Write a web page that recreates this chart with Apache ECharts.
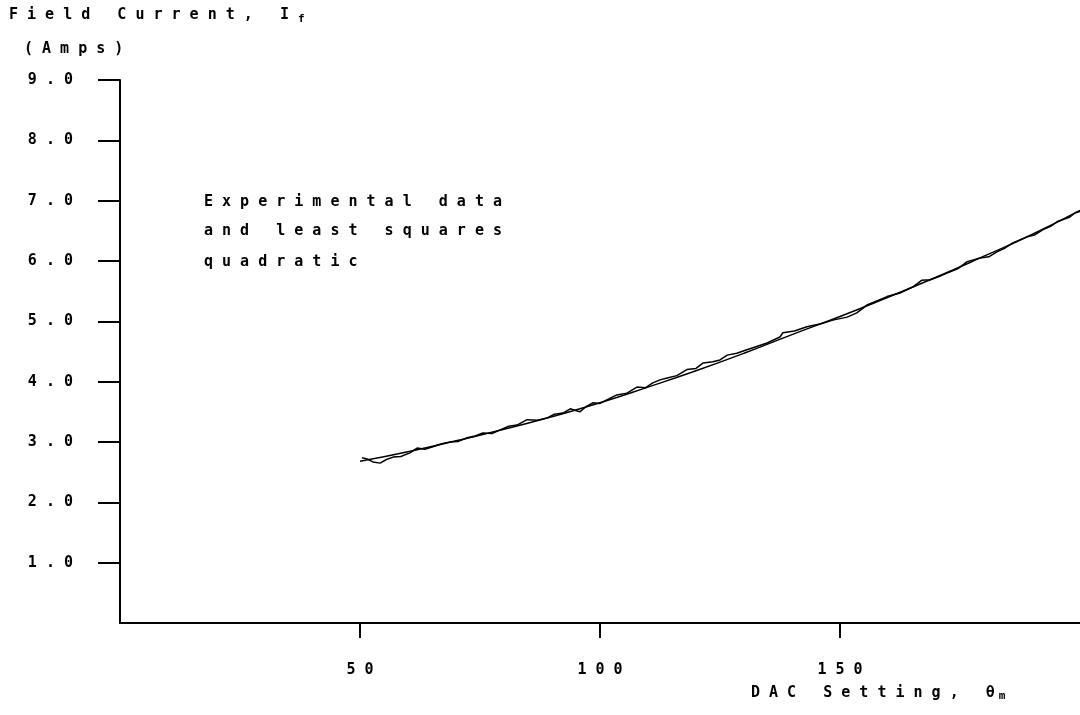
<!DOCTYPE html>
<html>
<head>
<meta charset="utf-8">
<script src="https://cdn.jsdelivr.net/npm/echarts@6/dist/echarts.min.js"></script>
<style>html,body{margin:0;padding:0;background:#fff;}#c{width:1080px;height:715px;}</style>
</head>
<body>
<div id="c"></div>
<script>
// Tick labels
var xTicks = [50, 100, 150];
var yTicks = [1, 2, 3, 4, 5, 6, 7, 8, 9];

// Experimental data (DAC setting, field current)
var expX = [50.4, 51.5, 52.7, 54.2, 55.5, 56.9, 58.5, 60.4, 61.9, 63.5, 65.2, 67.0, 68.8, 70.5, 72.3, 74.0, 75.6, 77.5, 79.2, 81.0, 82.7, 84.8, 87.0, 89.0, 90.5, 92.3, 93.8, 95.8, 97.0, 98.5, 100.0, 101.5, 103.5, 105.6, 107.7, 109.5, 111.0, 112.5, 114.0, 116.0, 118.1, 120.0, 121.5, 123.5, 125.0, 126.5, 128.5, 130.6, 132.5, 134.8, 137.5, 138.1, 140.5, 143.1, 146.0, 148.5, 151.5, 153.5, 155.6, 158.3, 159.8, 162.5, 165.2, 167.0, 168.8, 170.5, 172.3, 174.5, 176.5, 179.2, 181.0, 182.7, 184.5, 186.0, 189.0, 190.5, 192.3, 194.0, 195.2, 197.9, 199.0, 200.0];
var expY = [2.74, 2.72, 2.67, 2.65, 2.71, 2.75, 2.76, 2.82, 2.90, 2.88, 2.92, 2.97, 3.00, 3.01, 3.07, 3.10, 3.15, 3.14, 3.20, 3.26, 3.28, 3.37, 3.36, 3.40, 3.46, 3.48, 3.55, 3.50, 3.58, 3.65, 3.64, 3.70, 3.78, 3.81, 3.91, 3.90, 3.98, 4.03, 4.06, 4.10, 4.20, 4.22, 4.31, 4.33, 4.36, 4.44, 4.47, 4.53, 4.58, 4.64, 4.74, 4.81, 4.84, 4.91, 4.96, 5.02, 5.07, 5.14, 5.27, 5.36, 5.41, 5.47, 5.57, 5.68, 5.69, 5.74, 5.80, 5.87, 5.99, 6.05, 6.07, 6.15, 6.22, 6.30, 6.40, 6.43, 6.52, 6.58, 6.65, 6.73, 6.80, 6.82];

// Least squares quadratic
var fitX = [50, 60, 70, 80, 90, 100, 110, 120, 130, 140, 150, 160, 170, 180, 190, 200];
var fitY = [2.68, 2.84, 3.02, 3.21, 3.42, 3.65, 3.91, 4.18, 4.47, 4.78, 5.08, 5.40, 5.73, 6.08, 6.44, 6.84];

function pairs(xs, ys) { return xs.map(function (x, i) { return [x, ys[i]]; }); }
function spaced(s) { return s.split('').join(' '); }

var FONT = '"DejaVu Sans Mono", monospace';
var chart = echarts.init(document.getElementById('c'));
chart.setOption({
  backgroundColor: '#ffffff',
  animation: false,
  grid: { left: 120, right: 0, top: 80, bottom: 92 },
  xAxis: {
    type: 'value', min: 0, max: 200, interval: 50,
    splitLine: { show: false },
    axisLine: { show: true, lineStyle: { color: '#000', width: 2 } },
    axisTick: { show: true, customValues: xTicks, length: 15, lineStyle: { color: '#000', width: 2 } },
    axisLabel: {
      customValues: xTicks, margin: 40, color: '#000', fontFamily: FONT, fontWeight: 'bold', fontSize: 15,
      formatter: function (v) { return spaced(String(v)); }
    }
  },
  yAxis: {
    type: 'value', min: 0, max: 9, interval: 1,
    splitLine: { show: false },
    axisLine: { show: true, lineStyle: { color: '#000', width: 2 } },
    axisTick: { show: true, customValues: yTicks, length: 22, lineStyle: { color: '#000', width: 2 } },
    axisLabel: {
      customValues: yTicks, margin: 47, color: '#000', fontFamily: FONT, fontWeight: 'bold', fontSize: 15,
      formatter: function (v) { return spaced(v.toFixed(1)); }
    }
  },
  series: [
    { type: 'line', name: 'Experimental data', data: pairs(expX, expY), showSymbol: false,
      lineStyle: { color: '#000', width: 1.5 } },
    { type: 'line', name: 'Least squares quadratic', data: pairs(fitX, fitY), showSymbol: false, smooth: true,
      lineStyle: { color: '#000', width: 1.5 } }
  ],
  graphic: [
    { type: 'text', left: 9, top: 8, style: {
        text: '{a|' + 'F i e l d   C u r r e n t ,   I' + '}{s|f}',
        rich: { a: { fontFamily: FONT, fontWeight: 'bold', fontSize: 15, fill: '#000' },
                s: { fontFamily: FONT, fontWeight: 'bold', fontSize: 11, fill: '#000', padding: [8, 0, 0, 9] } } } },
    { type: 'text', left: 24, top: 42, style: { text: '( A m p s )', fontFamily: FONT, fontWeight: 'bold', fontSize: 15, fill: '#000' } },
    { type: 'text', left: 204, top: 195, style: { text: spaced('Experimental') + '   ' + spaced('data'), fontFamily: FONT, fontWeight: 'bold', fontSize: 15, fill: '#000' } },
    { type: 'text', left: 204, top: 224, style: { text: spaced('and') + '   ' + spaced('least') + '   ' + spaced('squares'), fontFamily: FONT, fontWeight: 'bold', fontSize: 15, fill: '#000' } },
    { type: 'text', left: 204, top: 255, style: { text: spaced('quadratic'), fontFamily: FONT, fontWeight: 'bold', fontSize: 15, fill: '#000' } },
    { type: 'text', left: 751, top: 686, style: {
        text: '{a|' + 'D A C   S e t t i n g ,   θ' + '}{s|m}',
        rich: { a: { fontFamily: FONT, fontWeight: 'bold', fontSize: 15, fill: '#000' },
                s: { fontFamily: FONT, fontWeight: 'bold', fontSize: 11, fill: '#000', padding: [6, 0, 0, 4] } } } }
  ]
});
</script>
</body>
</html>
